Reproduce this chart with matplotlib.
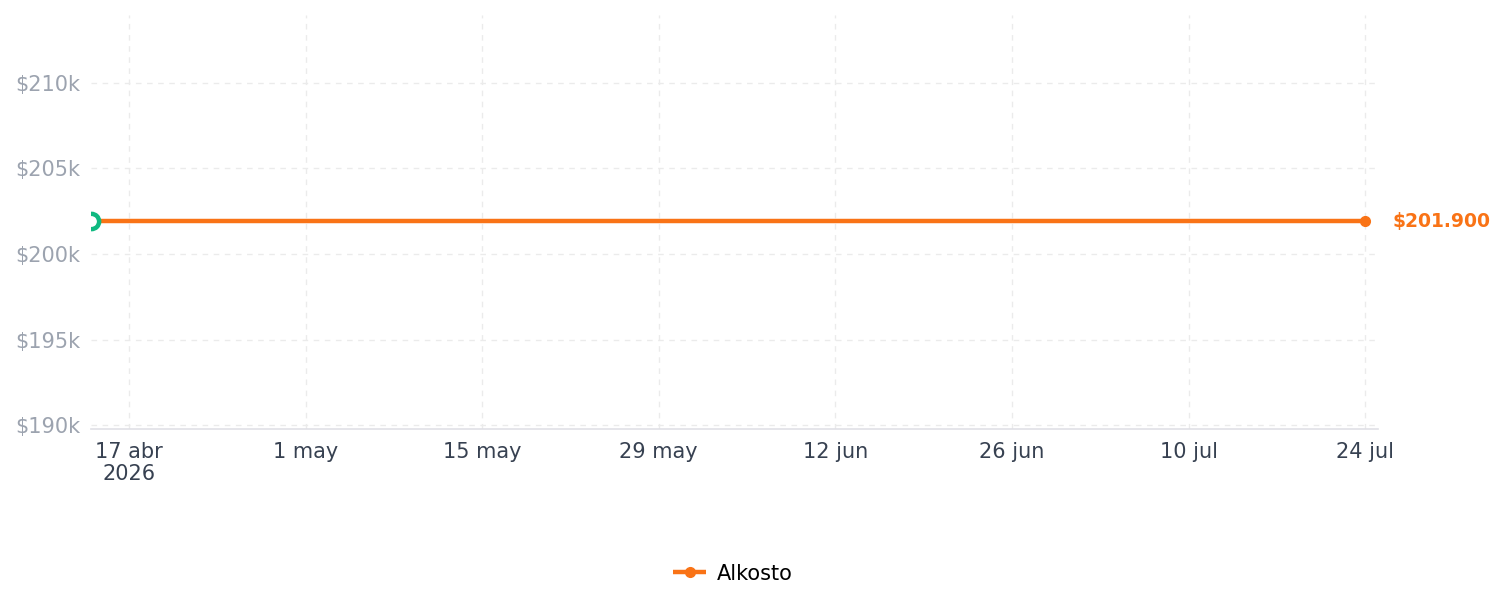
import matplotlib
matplotlib.use("Agg")
import matplotlib.pyplot as plt
import pandas as pd

# data
dates = pd.to_datetime(["2026-04-14", "2026-07-24"])
prices = [201900, 201900]
series_name = "Alkosto"
last_label = "$201.900"
tick_dates = pd.date_range("2026-04-17", "2026-07-24", freq="14D")
tick_labels = ["17 abr\n2026", "1 may", "15 may", "29 may", "12 jun", "26 jun", "10 jul", "24 jul"]
y_ticks = [190000, 195000, 200000, 205000, 210000]
y_labels = ["$190k", "$195k", "$200k", "$205k", "$210k"]

ORANGE = "#f97316"
GREEN = "#10b981"

fig = plt.figure(figsize=(15.05, 6.07), dpi=100)
ax = fig.add_axes([0.0605, 0.2932, 0.855, 0.6818])

ax.plot(dates, prices, color=ORANGE, lw=3.2, label=series_name,
        marker="o", markersize=7, markevery=[1], solid_capstyle="butt")
# first point marker (hollow green ring)
ax.plot(dates[:1], prices[:1], marker="o", markersize=11, markerfacecolor="white",
        markeredgecolor=GREEN, markeredgewidth=3.2, linestyle="none", zorder=5)

ax.annotate(last_label, xy=(dates[-1], prices[-1]), xytext=(20, 0),
            textcoords="offset points", color=ORANGE, fontsize=13.5, fontweight="bold",
            va="center", ha="left", annotation_clip=False)

ax.set_xlim(pd.Timestamp("2026-04-14"), pd.Timestamp("2026-07-25"))
ax.set_ylim(189770, 213950)

ax.set_xticks(tick_dates)
ax.set_xticklabels(tick_labels)
ax.set_yticks(y_ticks)
ax.set_yticklabels(y_labels)

ax.tick_params(axis="x", length=0, pad=9, labelsize=15, labelcolor="#374151")
ax.tick_params(axis="y", length=0, pad=8, labelsize=15, labelcolor="#9ca3af")
for lbl in ax.get_xticklabels():
    lbl.set_linespacing(1.15)

ax.grid(True, color="#ebebeb", linestyle=(0, (4, 4)), lw=1)
ax.set_axisbelow(True)
for side in ["top", "right", "left"]:
    ax.spines[side].set_visible(False)
ax.spines["bottom"].set_color("#e0e0e6")
ax.spines["bottom"].set_linewidth(1.2)

fig.legend(loc="center", bbox_to_anchor=(0.487, 0.055), frameon=False,
           fontsize=15, handlelength=1.6, handletextpad=0.5)

fig.savefig("out.png", dpi=100)
